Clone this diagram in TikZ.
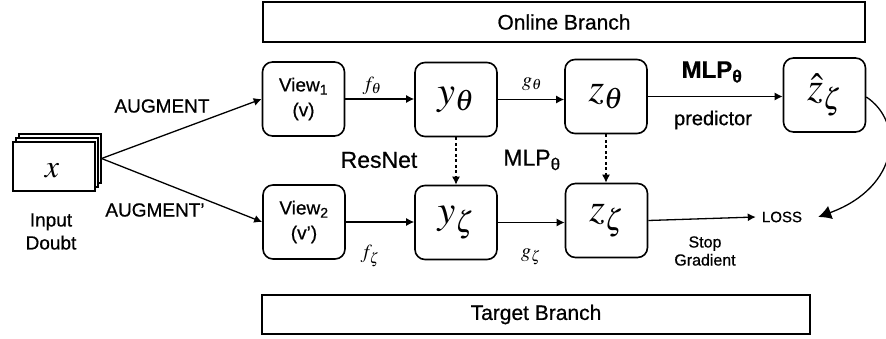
\documentclass[tikz,border=0pt]{standalone}
\usepackage{mathptmx}
\usepackage[no-math]{fontspec}
\setmainfont{Liberation Sans}[FakeBold=0.6]
\usetikzlibrary{arrows.meta,calc}
\newcommand\mbig[1]{{\fontsize{40}{48}\selectfont$#1$}}
\newcommand\fsz[2]{\fontsize{#1}{#2}\selectfont}
\begin{document}
\begin{tikzpicture}[x=1pt,y=-1pt,
  box/.style={draw, line width=1.6pt, rounded corners=10pt, minimum width=82pt, minimum height=74pt, inner sep=0pt, align=center},
  bar/.style={draw, line width=1.6pt, inner sep=0pt},
  sheet/.style={draw, line width=1.1pt, fill=white, minimum width=82pt, minimum height=49pt, inner sep=0pt},
  arr/.style={line width=1.3pt, -{Latex[length=8pt,width=8pt]}},
  darr/.style={line width=1.3pt, dashed, dash pattern=on 3pt off 2.5pt, -{Latex[length=8pt,width=8pt]}},
  lbl/.style={inner sep=0pt, align=center},
]
\useasboundingbox (0,0) rectangle (886,339);

% branch bars
\node[bar, minimum width=602pt, minimum height=40pt, font=\fsz{21}{25}] (online) at (564,22) {Online Branch};
\node[bar, minimum width=548pt, minimum height=39pt, font=\fsz{21}{25}] (target) at (536,314.5) {Target Branch};

% input stack
\node[sheet] (inb) at (60,158.5) {};
\node[sheet] (inm) at (57,162.5) {};
\node[sheet] (inf) at (54,166.5) {};
\node[lbl] (xlab) at (52,171) {{\fontsize{32}{38}\selectfont$x$}};
\node[lbl, font=\fsz{19}{23}] (inlab) at (51,231.5) {Input\\Doubt};

% boxes
\node[box, font=\fsz{19}{25}] (v1) at (303.5,99) {View\textsubscript{1}\\(v)};
\node[box] (y1) at (456,99.5) {\mbig{y_\theta}};
\node[box] (z1) at (606,96.5) {\mbig{z_\theta}};
\node[box] (zh) at (824.5,95) {\mbig{\hat{z}_\zeta}};
\node[box, font=\fsz{19}{25}] (v2) at (304,222) {View\textsubscript{2}\\(v’)};
\node[box] (y2) at (456,222.5) {\mbig{y_\zeta}};
\node[box] (z2) at (606.5,220.5) {\mbig{z_\zeta}};
\node[lbl, font=\fsz{15}{18}] (loss) at (782,217) {LOSS};

% labels
\node[lbl, font=\fsz{19}{22}] (aug1) at (162,106) {AUGMENT};
\node[lbl, font=\fsz{19}{22}] (aug2) at (155,210) {AUGMENT’};
\node[lbl] (ft) at (372,86) {{\fontsize{20}{24}\selectfont$f_\theta$}};
\node[lbl] (gt) at (532,84) {{\fontsize{20}{24}\selectfont$g_\theta$}};
\node[lbl] (fz) at (370,256) {{\fontsize{20}{24}\selectfont$f_\zeta$}};
\node[lbl] (gz) at (531,257) {{\fontsize{20}{24}\selectfont$g_\zeta$}};
\node[lbl, font=\fsz{23}{27}] (resnet) at (379,160) {ResNet};
\node[lbl, font=\fsz{23}{27}] (mlp1) at (532,160) {MLP\textsubscript{θ}};
\node[lbl, font=\bfseries\fsz{24}{28}] (mlp2) at (712,72) {MLP\textsubscript{θ}};
\node[lbl, font=\fsz{20}{24}] (pred) at (713,120) {predictor};
\node[lbl, font=\fsz{16}{18}] (stop) at (705,251) {Stop\\Gradient};

% connectors
\draw[arr] (inb.east) -- (v1.west);
\draw[arr] (inb.east) -- (v2.west);
\draw[arr] (v1.east) -- (y1.west |- v1.east);
\draw[arr] (y1.east) -- (z1.west |- y1.east);
\draw[arr] (z1.east) -- (zh.west |- z1.east);
\draw[arr] (v2.east) -- (y2.west |- v2.east);
\draw[arr] (y2.east) -- (z2.west |- y2.east);
\draw[arr] (z2.east) -- ($(loss.west)+(-6,0)$);
\draw[darr] (y1.south) -- (y2.north);
\draw[darr] (z1.south) -- (z1.south |- z2.north);
\draw[line width=1.3pt, -{Latex[length=13pt,width=14pt]}] ($(zh.east)+(0,2)$) .. controls +(38,25) and +(82,-30) .. ($(loss.east)+(16,0)$);
\end{tikzpicture}
\end{document}
